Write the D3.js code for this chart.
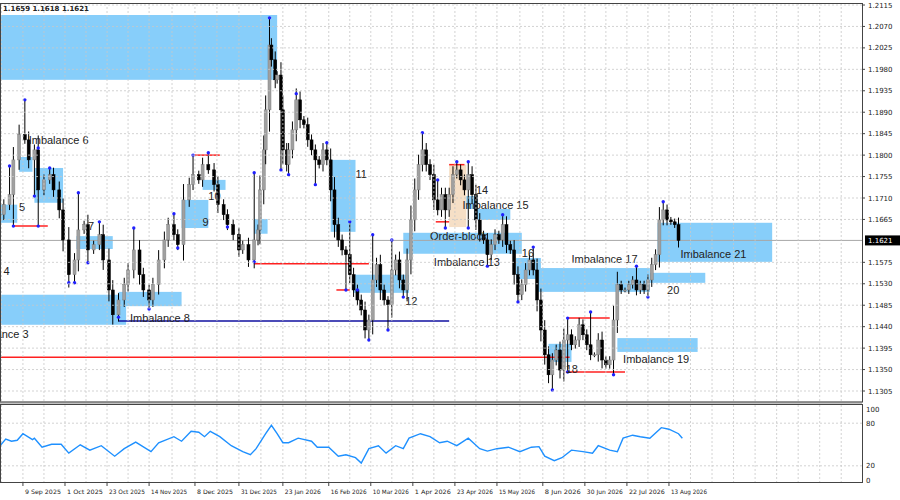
<!DOCTYPE html>
<html><head><meta charset="utf-8">
<script src="https://cdn.jsdelivr.net/npm/d3@7"></script>
<style>body{margin:0;background:#fff}svg{display:block}text{font-family:"DejaVu Sans",sans-serif}</style>
</head><body><svg id="c" width="900" height="500"></svg>
<script>
// ---- data ----
const startDate = "2025-08-28";
// close segments: [start day offset, end day offset, closes]
const segA = [0, 133, [1.1675,1.1696,1.1717,1.1790,1.1843,1.1832,1.1790,1.1811,1.1727,1.1748,1.1759,1.1727,1.1685,1.1622,1.1549,1.1580,1.1643,1.1654,1.1601,1.1612,1.1633,1.1580,1.1517,1.1465,1.1496,1.1528,1.1559,1.1601,1.1549,1.1517,1.1496,1.1528,1.1580,1.1622,1.1654,1.1633,1.1612,1.1706,1.1738,1.1759,1.1748,1.1780,1.1769,1.1738,1.1696,1.1675,1.1654,1.1633,1.1601,1.1612,1.1580,1.1622]];
const segB = [135, 155, [1.1643,1.1727,1.1811,1.1895,1.2031,1.2000,1.1958,1.1968,1.1895,1.1811,1.1780,1.1811,1.1853,1.1916]];
const segC = [157, 355, [1.1874,1.1864,1.1832,1.1811,1.1790,1.1780,1.1811,1.1790,1.1727,1.1654,1.1622,1.1601,1.1591,1.1549,1.1517,1.1496,1.1475,1.1433,1.1454,1.1538,1.1570,1.1517,1.1496,1.1486,1.1559,1.1580,1.1538,1.1517,1.1580,1.1664,1.1727,1.1780,1.1811,1.1780,1.1759,1.1706,1.1685,1.1717,1.1685,1.1717,1.1759,1.1769,1.1748,1.1727,1.1759,1.1717,1.1664,1.1633,1.1622,1.1591,1.1612,1.1633,1.1622,1.1654,1.1612,1.1601,1.1549,1.1507,1.1528,1.1559,1.1580,1.1559,1.1496,1.1433,1.1381,1.1339,1.1370,1.1391,1.1349,1.1412,1.1423,1.1402,1.1412,1.1444,1.1423,1.1402,1.1381,1.1381,1.1412,1.1370,1.1360,1.1370,1.1454,1.1528,1.1517,1.1517,1.1528,1.1538,1.1517,1.1528,1.1517,1.1538,1.1570,1.1591,1.1664,1.1685,1.1664,1.1660,1.1654,1.1621]];
const pivotHighs = [[4,1.1777],[13,1.1916],[20,1.1815],[27,1.1773],[43,1.1721],[53,1.1660],[70,1.1647],[91,1.1677],[102,1.1800],[110,1.1805],[134,1.1763],[141,1.2088],[155,1.1929],[172,1.1826],[184,1.1660],[196,1.1633],[206,1.1622],[222,1.1847],[230,1.1748],[240,1.1786],[246,1.1786],[264,1.1675],[279,1.1607],[298,1.1458],[310,1.1471],[334,1.1567],[347,1.1702]];
const pivotLows = [[7,1.1651],[17,1.1714],[21,1.1651],[37,1.1532],[40,1.1532],[48,1.1574],[62,1.1460],[78,1.1477],[95,1.1605],[119,1.1649],[133,1.1576],[148,1.1769],[152,1.1759],[165,1.1738],[182,1.1517],[188,1.1517],[194,1.1412],[203,1.1433],[211,1.1502],[234,1.1647],[245,1.1647],[255,1.1567],[272,1.1492],[289,1.1307],[297,1.1345],[322,1.1339],[339,1.1502]];
// zones: [day1, day2, top, bottom]
const zones = [[0,145,1.2094,1.1958],[0,9,1.1696,1.1658],[10,17,1.1796,1.1765],[18,33,1.1773,1.1700],[40,59,1.1630,1.1603],[0,66,1.1507,1.1444],[62,95,1.1513,1.1483],[95,109,1.1706,1.1647],[106,118,1.1748,1.1727],[133,140,1.1666,1.1635],[173,186,1.1790,1.1639],[185,214,1.1549,1.1511],[211,273,1.1637,1.1593],[240,250,1.1714,1.1687],[248,267,1.1687,1.1664],[270,283,1.1584,1.1540],[281,340,1.1563,1.1513],[287,299,1.1404,1.1366],[323,365,1.1416,1.1387],[340,369,1.1553,1.1532],[344,404,1.1658,1.1576]];
const tanZones = [[235,244,1.1780,1.1649]];
// lines: [day1, day2, price, colour]
const hLines = [[0,298,1.1376,"#ff2020"],[62,235,1.1452,"#1010a0"],[7,25,1.1651,"#ff2020"],[102,115,1.1800,"#ff2020"],[133,193,1.1572,"#ff2020"],[176,183,1.1517,"#ff2020"],[228,235,1.1660,"#ff2020"],[235,243,1.1780,"#ff2020"],[297,319,1.1458,"#ff2020"],[296,327,1.1345,"#ff2020"]];
// labels: [day, price, text, anchor]
const labels = [[15,1.1824,"Imbalance 6","start"],[10,1.1683,"5","start"],[5,1.1549,"Imbalance 4","end"],[46,1.1643,"7","start"],[68,1.1450,"Imbalance 8","start"],[15,1.1416,"Imbalance 3","end"],[106,1.1651,"9","start"],[109,1.1706,"10","start"],[186,1.1752,"11","start"],[212,1.1486,"12","start"],[225,1.1622,"Order-block","start"],[227,1.1567,"Imbalance 13","start"],[249,1.1719,"14","start"],[242,1.1687,"Imbalance 15","start"],[273,1.1586,"16","start"],[299,1.1574,"Imbalance 17","start"],[296,1.1343,"18","start"],[349,1.1509,"20","start"],[326,1.1364,"Imbalance 19","start"],[356,1.1584,"Imbalance 21","start"]];
const oscData = [[0,48.3],[3,57.6],[6,54.6],[9,55.9],[12,65.2],[17,56.8],[18,58.9],[22,46.2],[27,50.4],[32,50.4],[36,37.8],[42,49.6],[47,42],[53,48.3],[60,33.5],[65,44.1],[71,53.4],[79,39.9],[83,52.5],[91,61],[95,54.6],[100,68.6],[104,67.3],[107,61],[110,68.6],[115,61],[121,48.3],[127,39.9],[131,35.6],[134,44.1],[139,65.2],[142,77],[145,65.2],[148,52.5],[151,52.5],[156,58.9],[163,54.6],[166,46.2],[172,46.2],[177,33.5],[181,35.6],[186,31.4],[189,23.8],[193,44.1],[198,48.3],[202,37.8],[207,48.3],[211,44.1],[214,58.9],[220,65.2],[225,61],[230,52.5],[234,54.6],[239,48.3],[245,58.9],[251,44.1],[255,40.7],[260,44.1],[266,46.2],[272,39.9],[278,46.2],[282,47],[285,33.5],[290,27.2],[294,31.4],[299,42],[305,39.9],[310,37.8],[313,48.3],[319,42],[323,39.9],[326,58.9],[331,63.1],[335,61],[340,58.9],[346,73.7],[350,71.5],[355,65.2],[357,58.9]];
const dateTicks = ["2025-09-09","2025-10-01","2025-10-23","2025-11-14","2025-12-08","2025-12-31","2026-01-23","2026-02-16","2026-03-10","2026-04-01","2026-04-23","2026-05-15","2026-06-08","2026-06-30","2026-07-22","2026-08-13"];
const priceTicks = [1.2115,1.2070,1.2025,1.1980,1.1935,1.1890,1.1845,1.1800,1.1755,1.1710,1.1665,1.1575,1.1530,1.1485,1.1440,1.1395,1.1350,1.1305];
const oscTicks = [100,80,20,0];
const lastPrice = 1.1621;
const header = "1.1659 1.1618 1.1621";

// ---- build ----
const svg = d3.select("#c");
const W = 862;
const d0 = new Date(startDate + "T00:00:00");
const dayDate = d => d3.timeDay.offset(d0, d);
const x = d3.scaleTime().domain([d0, dayDate(451)]).range([0, W]);
const xd = d => x(dayDate(d));
const y = d3.scaleLinear().domain([1.1305, 1.2115]).range([391, 5]);
const yo = d3.scaleLinear().domain([0, 100]).range([480, 409]);

const bars = [];
[segA, segB, segC].forEach(([s, e, cl]) => {
  cl.forEach((c, i) => bars.push({day: s + (e - s) * i / (cl.length - 1), c}));
});
bars.forEach((b, i) => {
  b.o = i ? bars[i - 1].c : b.c;
  const w = Math.abs(b.c - b.o) * 0.3 + 0.0005;
  b.h = Math.max(b.o, b.c) + w; b.l = Math.min(b.o, b.c) - w;
});
const nearest = d => bars.reduce((a, b) => Math.abs(b.day - d) < Math.abs(a.day - d) ? b : a);
pivotHighs.forEach(([d, p]) => { const b = nearest(d); b.h = Math.max(b.h, p); b.ph = p; });
pivotLows.forEach(([d, p]) => { const b = nearest(d); b.l = Math.min(b.l, p); b.pl = p; });

const main = svg.append("g");
main.append("defs").append("clipPath").attr("id","cl").append("rect").attr("x",0).attr("y",3).attr("width",W).attr("height",399);
const g = main.append("g").attr("clip-path","url(#cl)");

// grid
const tickX = dateTicks.map(t => x(new Date(t + "T00:00:00")));
const gridDates = [];
tickX.forEach((v, i) => { gridDates.push(v); if (i < tickX.length - 1) gridDates.push((v + tickX[i+1]) / 2); });
const step = (tickX[15] - tickX[0]) / 30;
let gx = tickX[15];
while (gx + step < W) { gx += step; gridDates.push(gx); }
gx = tickX[0] - step; if (gx > 0) gridDates.push(gx);
const grid = svg.append("g").attr("stroke","#c8c8c8").attr("stroke-dasharray","2,2").attr("stroke-width",0.8);
gridDates.forEach(v => {
  grid.append("line").attr("x1",v).attr("x2",v).attr("y1",3).attr("y2",402);
  grid.append("line").attr("x1",v).attr("x2",v).attr("y1",405).attr("y2",482);
});
priceTicks.forEach(p => grid.append("line").attr("x1",0).attr("x2",W).attr("y1",y(p)).attr("y2",y(p)));
[80,20].forEach(v => grid.append("line").attr("x1",0).attr("x2",W).attr("y1",yo(v)).attr("y2",yo(v)));

// zones
g.selectAll(".z").data(zones).join("rect").attr("x",d=>xd(d[0])).attr("width",d=>xd(d[1])-xd(d[0]))
 .attr("y",d=>y(d[2])).attr("height",d=>y(d[3])-y(d[2])).attr("fill","#87cefa");
g.selectAll(".t").data(tanZones).join("rect").attr("x",d=>xd(d[0])).attr("width",d=>xd(d[1])-xd(d[0]))
 .attr("y",d=>y(d[2])).attr("height",d=>y(d[3])-y(d[2])).attr("fill","#f6dfc6");
g.append("line").attr("x1",0).attr("x2",W).attr("y1",y(lastPrice)).attr("y2",y(lastPrice)).attr("stroke","#a8a8a8");
g.selectAll(".hl").data(hLines).join("line").attr("x1",d=>xd(d[0])).attr("x2",d=>xd(d[1]))
 .attr("y1",d=>y(d[2])).attr("y2",d=>y(d[2])).attr("stroke",d=>d[3]).attr("stroke-width",1.5);
// candles
const cg = g.append("g");
bars.forEach(b => {
  const cx = xd(b.day);
  cg.append("line").attr("x1",cx).attr("x2",cx).attr("y1",y(b.h)).attr("y2",y(b.l)).attr("stroke","#000").attr("stroke-width",1);
  const bull = b.c >= b.o;
  cg.append("rect").attr("x",cx-1.5).attr("width",3).attr("y",y(Math.max(b.o,b.c))).attr("height",Math.max(1,Math.abs(y(b.o)-y(b.c))))
    .attr("fill",bull?"#a0a0a0":"#000").attr("stroke",bull?"#808080":"#000").attr("stroke-width",0.5);
  if (b.ph) cg.append("circle").attr("cx",cx).attr("cy",y(b.ph)).attr("r",1.7).attr("fill","#2020ff");
  if (b.pl) cg.append("circle").attr("cx",cx).attr("cy",y(b.pl)).attr("r",1.7).attr("fill","#2020ff");
});
// labels
g.selectAll(".lb").data(labels).join("text").attr("x",d=>xd(d[0])).attr("y",d=>y(d[1])).attr("text-anchor",d=>d[3])
 .attr("font-size",11).attr("fill","#222").style("font-family","Liberation Sans, Arial, sans-serif").text(d=>d[2]);
// oscillator
svg.append("path").datum(oscData).attr("fill","none").attr("stroke","#1e90ff").attr("stroke-width",1.4)
 .attr("d", d3.line().x(d=>xd(d[0])).y(d=>yo(d[1])));

// frames
svg.append("rect").attr("x",0.5).attr("y",3.5).attr("width",W).attr("height",398.5).attr("fill","none").attr("stroke","#444");
svg.append("rect").attr("x",0.5).attr("y",404.5).attr("width",W).attr("height",78).attr("fill","none").attr("stroke","#444");
svg.append("line").attr("x1",0).attr("x2",W).attr("y1",402.5).attr("y2",402.5).attr("stroke","#888").attr("stroke-width",2);

// axes text
const ax = svg.append("g").attr("font-size",7).attr("fill","#222");
priceTicks.forEach(p => {
  ax.append("line").attr("x1",W).attr("x2",W+3).attr("y1",y(p)).attr("y2",y(p)).attr("stroke","#444");
  ax.append("text").attr("x",W+6).attr("y",y(p)+2.5).text(p.toFixed(4));
});
ax.append("rect").attr("x",W+3).attr("y",y(lastPrice)-5).attr("width",36).attr("height",10).attr("fill","#000");
ax.append("text").attr("x",W+6).attr("y",y(lastPrice)+2.5).attr("fill","#fff").text(lastPrice.toFixed(4));
oscTicks.forEach(v => ax.append("text").attr("x",W+4).attr("y",yo(v)+2.5).text(v));
dateTicks.forEach((t, i) => {
  const dt = new Date(t + "T00:00:00");
  ax.append("line").attr("x1",tickX[i]).attr("x2",tickX[i]).attr("y1",482).attr("y2",486).attr("stroke","#444");
  ax.append("text").attr("x",tickX[i]+2).attr("y",494).attr("font-size",6).attr("textLength",36).attr("lengthAdjust","spacingAndGlyphs")
    .text(d3.timeFormat("%-d %b %Y")(dt));
});
svg.append("text").attr("x",3).attr("y",11).attr("font-size",7).attr("font-weight","bold").attr("fill","#222").text(header);
</script></body></html>
